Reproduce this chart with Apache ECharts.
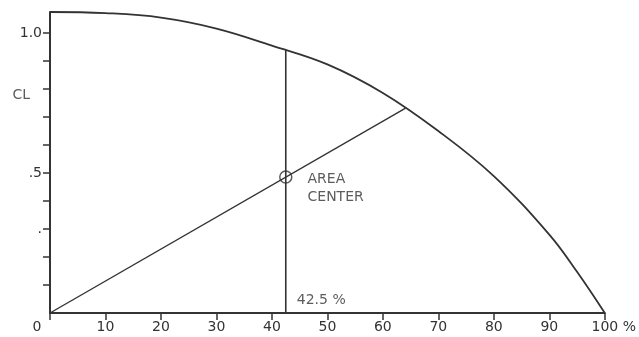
<!DOCTYPE html>
<html>
<head>
<meta charset="utf-8">
<script src="https://cdn.jsdelivr.net/npm/echarts@6/dist/echarts.min.js"></script>
<style>
  html, body { margin: 0; padding: 0; background: #fff; }
  #main { width: 639px; height: 337px; }
</style>
</head>
<body>
<div id="main"></div>
<script>
// span position in % and lift coefficient CL
const spanPct = [0, 10, 20, 30, 40, 50, 60, 70, 80, 90, 95, 100]
const liftCL = [1.075, 1.071, 1.055, 1.016, 0.955, 0.888, 0.786, 0.65, 0.489, 0.28, 0.147, 0]

// area center construction
const centerPct = 42.5
const centerCL = 0.486
const verticalTopCL = 0.94
const diagonalEnd = [64.1, 0.732]

// axis ticks and the few labels that are written on the y axis
const yTicks = [0.1, 0.2, 0.3, 0.4, 0.5, 0.6, 0.7, 0.8, 0.9, 1.0]
const yLabelValues = [0.3, 0.5, 1.0]
const yLabelText = ['.', '.5', '1.0']

const ink = '#333'
const font = 'DejaVu Sans'
const size = 14

const chart = echarts.init(document.getElementById('main'))

const option = {
  animation: false,
  grid: { left: 50, right: 32, top: 12, bottom: 24 },
  xAxis: {
    type: 'value',
    min: 0,
    max: 100,
    interval: 10,
    splitLine: { show: false },
    axisLine: { lineStyle: { color: ink, width: 2 } },
    axisTick: { length: 7, lineStyle: { color: ink, width: 1.5 } },
    axisLabel: {
      margin: 7,
      color: ink,
      fontFamily: font,
      fontSize: size,
      formatter: function (v) {
        if (v === 0) return '{z|0}'
        if (v === 100) return '{p|100 %}'
        return v
      },
      rich: {
        z: { padding: [0, 26, 0, 0], color: ink, fontFamily: font, fontSize: size },
        p: { padding: [0, 0, 0, 18], color: ink, fontFamily: font, fontSize: size }
      }
    }
  },
  yAxis: {
    type: 'value',
    min: 0,
    max: 1.075,
    splitLine: { show: false },
    axisLine: { show: true, lineStyle: { color: ink, width: 2 } },
    axisTick: {
      show: true,
      length: 7,
      customValues: yTicks,
      lineStyle: { color: ink, width: 1.5 }
    },
    axisLabel: {
      margin: 8,
      color: ink,
      fontFamily: font,
      fontSize: size,
      customValues: yLabelValues,
      formatter: function (v) {
        const i = yLabelValues.findIndex(function (d) { return Math.abs(d - v) < 1e-6 })
        return i >= 0 ? yLabelText[i] : ''
      }
    }
  },
  series: [
    {
      type: 'line',
      data: spanPct.map(function (x, i) { return [x, liftCL[i]] }),
      smooth: 0.4,
      showSymbol: false,
      lineStyle: { color: ink, width: 1.8 }
    },
    {
      type: 'line',
      data: [[0, 0], diagonalEnd],
      showSymbol: false,
      lineStyle: { color: ink, width: 1.4 }
    },
    {
      type: 'line',
      data: [[centerPct, 0], [centerPct, verticalTopCL]],
      showSymbol: false,
      lineStyle: { color: ink, width: 1.6 }
    },
    {
      type: 'scatter',
      z: 5,
      data: [[centerPct, centerCL]],
      symbol: 'circle',
      symbolSize: 12,
      itemStyle: { color: 'rgba(0,0,0,0)', borderColor: ink, borderWidth: 1.5 },
      label: {
        show: true,
        position: 'right',
        distance: 15,
        offset: [0, 11],
        formatter: 'AREA\nCENTER',
        lineHeight: 18,
        color: ink,
        fontFamily: font,
        fontSize: size
      }
    },
    {
      type: 'scatter',
      clip: false,
      symbolSize: 0,
      silent: true,
      data: [
        {
          value: [centerPct, 0],
          label: { show: true, position: 'right', distance: 11, offset: [0, -13], formatter: '42.5 %' }
        },
        {
          value: [0, 0.8],
          label: { show: true, position: 'left', distance: 20, offset: [0, 6], formatter: 'CL' }
        }
      ],
      label: { color: ink, fontFamily: font, fontSize: size }
    }
  ]
}

chart.setOption(option)
</script>
</body>
</html>
